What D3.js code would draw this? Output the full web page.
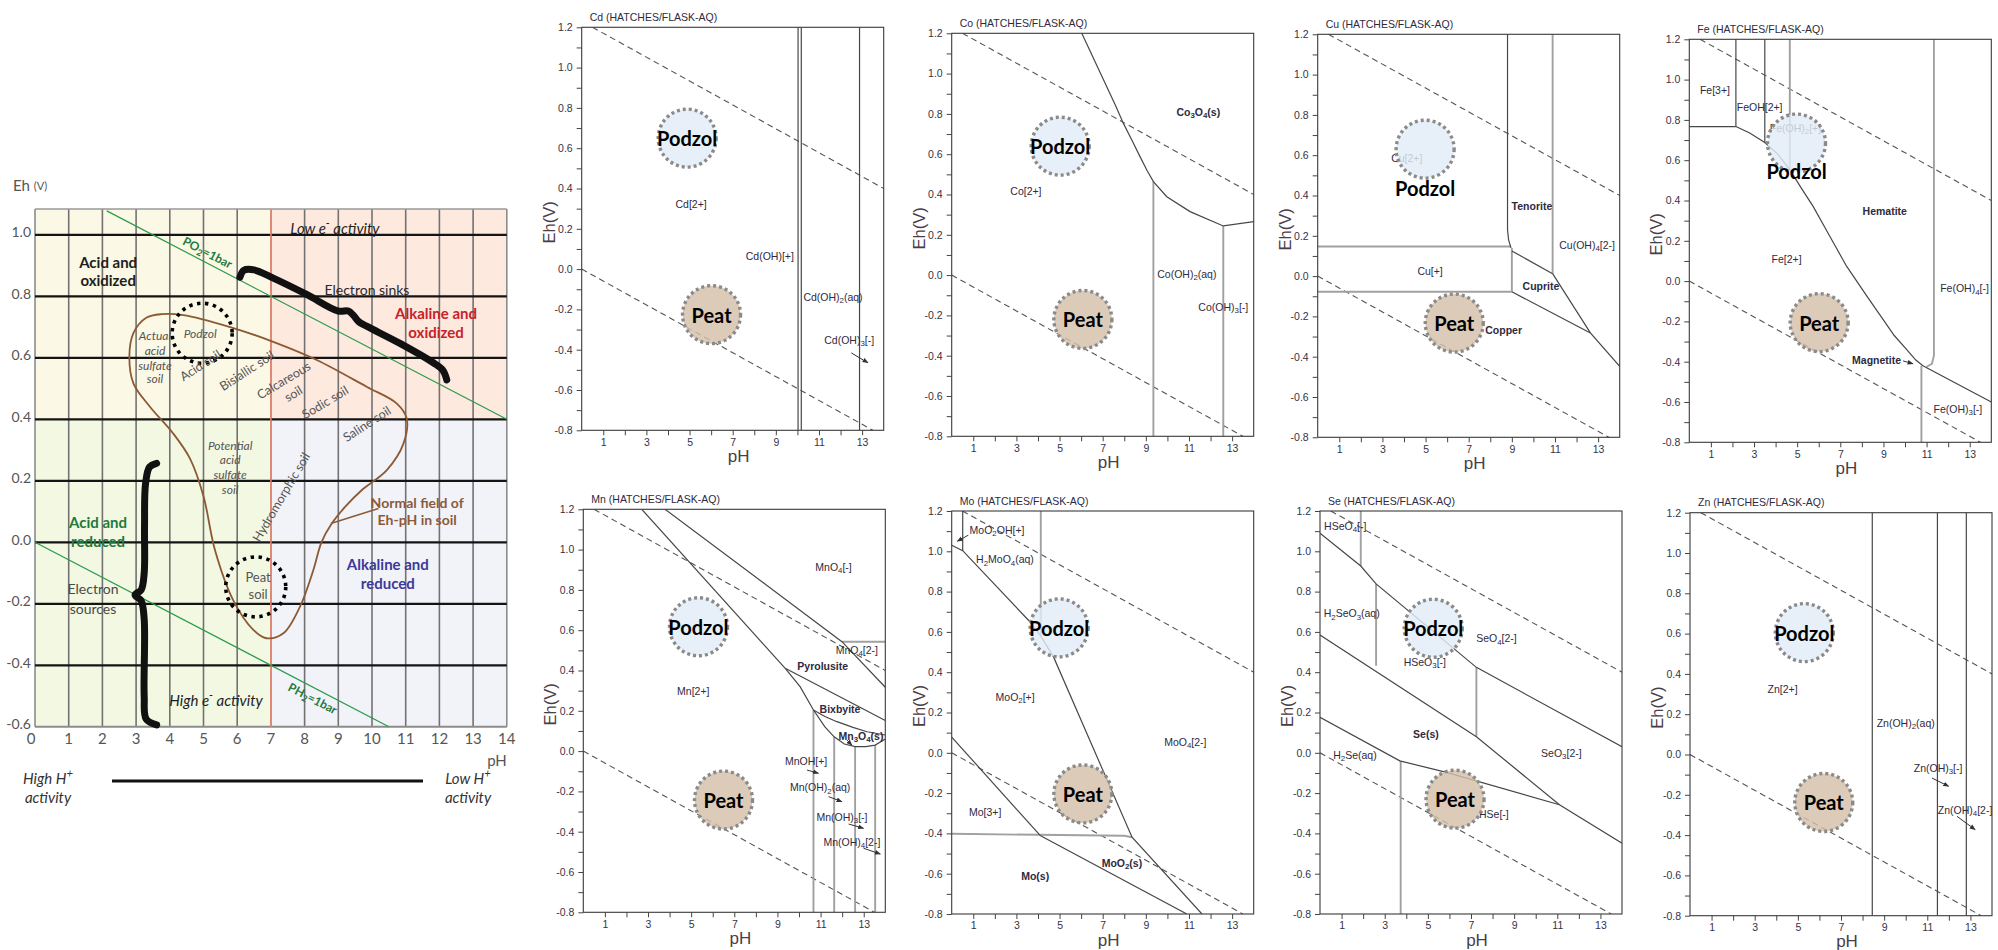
<!DOCTYPE html>
<meta charset="utf-8">
<style>
    body {
        margin: 0;
        background: #fff;
    }

    svg {
        display: block;
    }

    .soil text {
        font-family: Lato, "Open Sans", sans-serif;
    }

    .pd text {
        font-family: "Liberation Sans", Arial, sans-serif;
    }
</style>
<svg width="1998" height="950"></svg>
<script src="https://d3js.org/d3.v7.min.js"></script>
<script>
    // ---- left chart: Eh-pH fields in soil ----
    var soilPh = d3.range(0, 15);
    var soilEh = [-0.6, -0.4, -0.2, 0, 0.2, 0.4, 0.6, 0.8, 1.0];
    var soilZones = [
        {ph: [0, 7], eh: [0.4, 1.084], key: "acidOx"},
        {ph: [7, 14], eh: [0.4, 1.084], key: "alkOx"},
        {ph: [0, 7], eh: [-0.6, 0.4], key: "acidRed"},
        {ph: [7, 14], eh: [-0.6, 0.4], key: "alkRed"}
    ];
    var o2Line = [[2.13, 1.078], [14, 0.4]];
    var h2Line = [[0, 0], [10.5, -0.6]];
    var normalField = [
        [3.76, 0.742], [4.4, 0.739], [5.79, 0.70], [7.07, 0.652], [8.36, 0.593], [9.84, 0.506],
        [10.73, 0.452], [11.03, 0.403], [10.93, 0.32], [10.44, 0.235], [9.7, 0.17], [9.2, 0.115],
        [8.8, 0.06], [8.5, 0.0], [8.26, -0.09], [7.86, -0.21], [7.37, -0.296], [6.87, -0.312],
        [6.48, -0.285], [5.88, -0.188], [5.34, -0.025], [5.0, 0.15], [4.6, 0.272], [4.1, 0.354],
        [3.41, 0.441], [2.92, 0.517], [2.8, 0.604], [2.92, 0.68], [3.3, 0.73]
    ];
    var fieldPointer = [[10.19, 0.11], [8.8, 0.062]];
    var sinkBrace = [
        [6.08, 0.862], [6.2, 0.885], [6.5, 0.886], [7.07, 0.859], [8.06, 0.806], [9.0, 0.752],
        [9.3, 0.752], [9.45, 0.738], [9.6, 0.718], [9.84, 0.703], [10.83, 0.647], [11.82, 0.584],
        [12.1, 0.56], [12.22, 0.528]
    ];
    var sourceBrace = [
        [3.61, 0.257], [3.4, 0.245], [3.28, 0.19], [3.25, 0.05], [3.24, -0.1], [3.15, -0.155],
        [2.97, -0.171], [3.15, -0.19], [3.24, -0.25], [3.24, -0.5], [3.3, -0.575], [3.61, -0.594]
    ];
    var soilCircles = [[4.96, 0.68], [6.55, -0.145]];
    var soilNotes = [
        ["Acid and", 2.17, 0.912, "dark"], ["oxidized", 2.17, 0.853, "dark"],
        ["Low e^- activity", 8.9, 1.022, "note"],
        ["Electron sinks", 9.85, 0.824, "plain"],
        ["Alkaline and", 11.9, 0.746, "red"], ["oxidized", 11.9, 0.684, "red"],
        ["Acid and", 1.87, 0.066, "green"], ["reduced", 1.87, 0.004, "green"],
        ["Electron", 1.72, -0.149, "grey"], ["sources", 1.72, -0.214, "grey"],
        ["High e^- activity", 5.37, -0.513, "note"],
        ["Alkaline and", 10.47, -0.07, "blue"], ["reduced", 10.47, -0.132, "blue"],
        ["Normal field of", 11.34, 0.131, "brown"], ["Eh-pH in soil", 11.34, 0.076, "brown"],
        ["Actual", 3.56, 0.674, "soilIt"], ["acid", 3.56, 0.626, "soilIt"],
        ["sulfate", 3.56, 0.577, "soilIt"], ["soil", 3.56, 0.534, "soilIt"],
        ["Podzol", 4.9, 0.68, "soilIt"],
        ["Potential", 5.79, 0.316, "soilIt"], ["acid", 5.79, 0.27, "soilIt"],
        ["sulfate", 5.79, 0.222, "soilIt"], ["soil", 5.79, 0.173, "soilIt"],
        ["Peat", 6.62, -0.113, "soil"], ["soil", 6.62, -0.168, "soil"]
    ];
    var soilTilted = [
        ["Acid soil", 4.9, 0.577, -33], ["Bisiallic soil", 6.28, 0.56, -33],
        ["Calcareous", 7.37, 0.528, -31], ["soil", 7.66, 0.485, -31],
        ["Sodic soil", 8.6, 0.457, -31], ["Saline soil", 9.84, 0.387, -33],
        ["Hydromorphic soil", 7.29, 0.148, -59.5]
    ];
    var gasLabels = [["PO2=1bar", 5.13, 0.944, o2Line], ["PH2=1bar", 8.25, -0.506, h2Line]];

    // ---- right side: Eh-pH phase diagrams ----
    var ehMajor = [-0.8, -0.6, -0.4, -0.2, 0, 0.2, 0.4, 0.6, 0.8, 1.0, 1.2];
    var ehMinor = [-0.7, -0.5, -0.3, -0.1, 0.1, 0.3, 0.5, 0.7, 0.9, 1.1];
    var phMajor = [1, 3, 5, 7, 9, 11, 13];
    var phMinor = [2, 4, 6, 8, 10, 12];
    var waterUpper = [[0.5, 1.2], [14, 0.40]];
    var waterLower = [[0, 0], [13.5, -0.8]];

    var cdLines = [
        [[10.03, 1.2], [10.03, -0.8]],
        [[10.18, 1.2], [10.18, -0.8]],
        [[12.88, 1.2], [12.88, -0.8]]
    ];
    var cdLabels = [["Cd[2+]", 5.07, 0.324], ["Cd(OH)[+]", 8.72, 0.066], ["Cd(OH)2(aq)", 11.65, -0.14], ["Cd(OH)3[-]", 12.4, -0.35]];
    var cdArrows = [[[12.5, -0.416], [13.27, -0.465]]];

    var coLines = [
        [[6.03, 1.2], [7.6, 0.84], [7.96, 0.753], [8.35, 0.67], [8.73, 0.588], [9.05, 0.52], [9.35, 0.464],
            [9.97, 0.389], [11.05, 0.315], [12.59, 0.244], [14, 0.265]]
    ];
    var coGrey = [[[9.35, 0.464], [9.35, -0.8]], [[12.59, 0.244], [12.59, -0.8]]];
    var coLabels = [["Co3O4(s)", 11.43, 0.811, 1], ["Co[2+]", 3.44, 0.419], ["Co(OH)2(aq)", 10.9, 0.005], ["Co(OH)3[-]", 12.59, -0.157]];

    var cuLines = [
        [[8.8, 1.2], [8.8, 0.23], [8.85, 0.18], [8.96, 0.14]],
        [[9.0, 0.125], [10.89, 0.012]],
        [[10.89, 0.012], [12.64, -0.282], [14, -0.448]],
        [[9.0, -0.078], [12.64, -0.282]]
    ];
    var cuGrey = [
        [[0, 0.147], [8.96, 0.147]], [[9.0, 0.14], [9.0, -0.078]],
        [[0, -0.078], [9.0, -0.078]], [[10.89, 1.2], [10.89, 0.012]]
    ];
    var cuLabels = [["Cu[2+]", 4.13, 0.585], ["Tenorite", 9.93, 0.349, 1], ["Cu(OH)4[2-]", 12.49, 0.155],
        ["Cu[+]", 5.21, 0.023], ["Cuprite", 10.35, -0.051, 1], ["Copper", 8.62, -0.266, 1]];

    var feLines = [
        [[0, 0.767], [2.16, 0.767]],
        [[2.16, 0.767], [2.8, 0.735], [3.5, 0.688], [4.1, 0.63], [4.66, 0.553], [5.2, 0.46], [5.74, 0.371],
            [6.5, 0.225], [7.29, 0.074], [8.2, -0.07], [8.98, -0.19], [9.5, -0.27], [10.06, -0.338],
            [10.5, -0.392], [10.83, -0.42], [14, -0.6]],
        [[2.16, 1.2], [2.16, 0.767]],
        [[3.5, 1.2], [3.5, 0.688]]
    ];
    var feGrey = [
        [[4.66, 1.2], [4.66, 0.553]],
        [[10.76, -0.42], [10.76, -0.8]],
        [[11.34, 1.2], [11.34, -0.37], [11.25, -0.41], [11.0, -0.425]]
    ];
    var feLabels = [["Fe[3+]", 1.19, 0.95], ["FeOH[2+]", 3.26, 0.866], ["Fe(OH)2[+]", 4.92, 0.76],
        ["Hematite", 9.06, 0.35, 1], ["Fe[2+]", 4.51, 0.11], ["Fe(OH)4[-]", 12.76, -0.036],
        ["Magnetite", 8.68, -0.39, 1], ["Fe(OH)3[-]", 12.45, -0.635]];
    var feArrows = [[[9.91, -0.396], [10.37, -0.41]]];

    var mnLines = [
        [[2.71, 1.2], [9.36, 0.411]],
        [[3.79, 1.2], [11.99, 0.543], [14, 0.317]],
        [[9.36, 0.411], [14, 0.152]],
        [[9.36, 0.411], [10.05, 0.32], [10.67, 0.204]],
        [[10.67, 0.204], [11.2, 0.172], [11.76, 0.146], [12.5, 0.118], [13.15, 0.096], [14, 0.08]],
        [[10.67, 0.204], [11.2, 0.12], [11.63, 0.071], [12.1, 0.035], [12.6, 0.022], [13.1, 0.022],
            [13.53, 0.03], [14, 0.06]]
    ];
    var mnGrey = [
        [[11.99, 0.543], [14, 0.543]],
        [[10.67, 0.204], [10.67, -0.8]], [[11.63, 0.071], [11.63, -0.8]],
        [[12.6, 0.022], [12.6, -0.8]], [[13.53, 0.03], [13.53, -0.8]]
    ];
    var mnLabels = [["MnO4[-]", 11.6, 0.912], ["MnO4[2-]", 12.68, 0.502], ["Pyrolusite", 11.1, 0.424, 1],
        ["Bixbyite", 11.9, 0.21, 1], ["Mn3O4(s)", 12.87, 0.075, 1], ["Mn[2+]", 5.1, 0.3],
        ["MnOH[+]", 10.33, -0.048], ["Mn(OH)2(aq)", 10.98, -0.18], ["Mn(OH)3[-]", 11.99, -0.326],
        ["Mn(OH)4[2-]", 12.45, -0.45]];
    var mnArrows = [[[10.37, -0.094], [10.9, -0.11]], [[11.37, -0.226], [11.99, -0.251]],
        [[12.3, -0.362], [12.99, -0.383]], [[12.99, -0.482], [13.77, -0.511]], [[12.22, 0.055], [12.45, 0.03]]];

    var moLines = [
        [[0.51, 1.2], [0.51, 1.003]],
        [[0, 1.03], [0.51, 1.003], [3.56, 0.658], [4.1, 0.584], [4.72, 0.476], [8.36, -0.419], [11.6, -0.8]],
        [[0, 0.078], [4.1, -0.41]],
        [[4.1, -0.41], [10.9, -0.8]]
    ];
    var moGrey = [[[4.13, 1.2], [4.13, 0.584]], [[0, -0.402], [8.0, -0.412], [8.36, -0.419]]];
    var moLabels = [["MoO2OH[+]", 2.1, 1.105], ["H2MoO4(aq)", 2.47, 0.96], ["MoO2[+]", 2.94, 0.277],
        ["MoO4[2-]", 10.83, 0.053], ["Mo[3+]", 1.55, -0.295], ["MoO2(s)", 7.89, -0.548, 1], ["Mo(s)", 3.87, -0.61, 1]];
    var moArrows = [[[0.77, 1.08], [0.26, 1.05]]];

    var seLines = [
        [[0, 1.09], [1.89, 0.927], [2.6, 0.838], [7.25, 0.424], [14, 0.03]],
        [[0, 0.585], [7.25, 0.08], [11.1, -0.258], [14, -0.449]],
        [[0, 0.176], [3.7, -0.04], [5.86, -0.097], [11.1, -0.258]]
    ];
    var seGrey = [
        [[1.89, 1.2], [1.89, 0.927]], [[2.6, 0.838], [2.6, 0.432]],
        [[7.25, 0.424], [7.25, 0.08]], [[3.74, -0.04], [3.74, -0.8]]
    ];
    var seLabels = [["HSeO4[-]", 1.17, 1.126], ["H2SeO3(aq)", 1.47, 0.692], ["HSeO3[-]", 4.86, 0.45],
        ["SeO4[2-]", 8.18, 0.568], ["Se(s)", 4.91, 0.093, 1], ["SeO3[2-]", 11.19, -0.002],
        ["H2Se(aq)", 1.62, -0.01], ["HSe[-]", 8.06, -0.304]];

    var znLines = [[[8.45, 1.2], [8.45, -0.8]], [[11.47, 1.2], [11.47, -0.8]], [[12.81, 1.2], [12.81, -0.8]]];
    var znLabels = [["Zn[2+]", 4.29, 0.324], ["Zn(OH)2(aq)", 10.0, 0.156], ["Zn(OH)3[-]", 11.5, -0.067], ["Zn(OH)4[2-]", 12.75, -0.276]];
    var znArrows = [[[11.22, -0.117], [11.99, -0.158]], [[12.38, -0.307], [13.22, -0.373]]];

    var panels = [
        {el: "Cd", left: 581.7, top: 27.3, lines: cdLines, grey: [], labels: cdLabels, arrows: cdArrows, podzol: [4.89, 0.65], peat: [6.02, -0.226]},
        {el: "Co", left: 951.7, top: 33.3, lines: coLines, grey: coGrey, labels: coLabels, arrows: [], podzol: [5.03, 0.64], peat: [6.08, -0.22]},
        {el: "Cu", left: 1317.7, top: 34.3, lines: cuLines, grey: cuGrey, labels: cuLabels, arrows: [], podzol: [4.98, 0.63], podzolText: [4.98, 0.436], peat: [6.33, -0.233]},
        {el: "Fe", left: 1689.3, top: 39.3, lines: feLines, grey: feGrey, labels: feLabels, arrows: feArrows, podzol: [4.97, 0.685], podzolText: [4.97, 0.545], peat: [6.02, -0.206]},
        {el: "Mn", left: 583.3, top: 509.3, lines: mnLines, grey: mnGrey, labels: mnLabels, arrows: mnArrows, podzol: [5.34, 0.617], peat: [6.5, -0.243]},
        {el: "Mo", left: 951.7, top: 511, lines: moLines, grey: moGrey, labels: moLabels, arrows: moArrows, podzol: [4.98, 0.62], peat: [6.08, -0.204]},
        {el: "Se", left: 1320, top: 511, lines: seLines, grey: seGrey, labels: seLabels, arrows: [], podzol: [5.25, 0.618], peat: [6.26, -0.23]},
        {el: "Zn", left: 1690, top: 512.7, lines: znLines, grey: [], labels: znLabels, arrows: znArrows, podzol: [5.3, 0.605], peat: [6.2, -0.238]}
    ];

    var svg = d3.select("svg");
    svg.append("rect").attr("width", 1998).attr("height", 950).attr("fill", "#fff");

    svg.append("defs").append("marker")
        .attr("id", "arr").attr("viewBox", "0 0 10 10")
        .attr("refX", 9).attr("refY", 5)
        .attr("markerWidth", 6).attr("markerHeight", 6)
        .attr("orient", "auto")
        .append("path").attr("d", "M0,1L10,5L0,9z").attr("fill", "#333");

    // text with chemical subscripts (digits after a letter or ")" outside [])
    // and "^" marking the next char as superscript
    function chem(el, s, size) {
        var parts = [], inBr = false, prev = "", sup = false;
        for (var i = 0; i < s.length; i++) {
            var c = s[i];
            if (c === "^") { sup = true; continue; }
            if (c === "[") inBr = true;
            var kind = sup ? "sup" : (!inBr && /\d/.test(c) && /[A-Za-z)]/.test(prev) ? "sub" : "n");
            sup = false;
            if (c === "]") inBr = false;
            var last = parts[parts.length - 1];
            if (last && last.kind === kind) last.t += c;
            else parts.push({t: c, kind: kind});
            prev = c;
        }
        var shift = 0;
        parts.forEach(function (p) {
            var want = p.kind === "sub" ? 0.3 * size : (p.kind === "sup" ? -0.38 * size : 0);
            var ts = el.append("tspan").attr("dy", want - shift).text(p.t);
            if (p.kind !== "n") ts.style("font-size", (size * 0.75) + "px");
            shift = want;
        });
        return el;
    }

    function putText(g, t, px, py, st, rot) {
        var el = g.append("text")
            .attr("transform", "translate(" + px + "," + py + ")" + (rot ? " rotate(" + rot + ")" : ""))
            .attr("text-anchor", st.anchor || "middle")
            .attr("dominant-baseline", "central")
            .style("font-size", st.size + "px")
            .style("font-weight", st.weight || 400)
            .style("font-style", st.italic ? "italic" : "normal")
            .attr("fill", st.fill);
        return chem(el, t, st.size);
    }

    // ---------- left chart ----------
    var zoneFill = {acidOx: "#fbf8e6", alkOx: "#fde9de", acidRed: "#f2f8e2", alkRed: "#f2f2f9"};
    var noteStyle = {
        dark: {size: 15, weight: 700, fill: "#1e1e1e"},
        red: {size: 15, weight: 700, fill: "#c62229"},
        green: {size: 15, weight: 700, fill: "#1f7a3d"},
        blue: {size: 15, weight: 700, fill: "#3b3a9a"},
        brown: {size: 14, weight: 700, fill: "#8a5a3c"},
        plain: {size: 14, fill: "#2a2a2a"},
        grey: {size: 14, fill: "#4a4a4a"},
        note: {size: 15, italic: true, fill: "#1e1e1e"},
        soil: {size: 13, fill: "#555"},
        soilIt: {size: 12, italic: true, fill: "#555"}
    };

    var lx = d3.scaleLinear().domain([0, 14]).range([35, 506.8]);
    var ly = d3.scaleLinear().domain([-0.6, 1.084]).range([726.8, 209]);
    var soil = svg.append("g").attr("class", "soil");

    soil.selectAll(".zone").data(soilZones).enter().append("rect")
        .attr("x", function (d) { return lx(d.ph[0]); })
        .attr("y", function (d) { return ly(d.eh[1]); })
        .attr("width", function (d) { return lx(d.ph[1]) - lx(d.ph[0]); })
        .attr("height", function (d) { return ly(d.eh[0]) - ly(d.eh[1]); })
        .attr("fill", function (d) { return zoneFill[d.key]; });

    soil.selectAll(".vg").data(soilPh).enter().append("line")
        .attr("x1", function (d) { return lx(d); })
        .attr("x2", function (d) { return lx(d); })
        .attr("y1", ly(1.084)).attr("y2", ly(-0.6))
        .attr("stroke", function (d) { return (d === 0 || d === 14) ? "#8c8c8c" : "#727272"; })
        .attr("stroke-width", 1.6);

    soil.append("line")
        .attr("x1", lx(0)).attr("x2", lx(14)).attr("y1", ly(1.084)).attr("y2", ly(1.084))
        .attr("stroke", "#999").attr("stroke-width", 1.5);

    soil.selectAll(".hg").data(soilEh).enter().append("line")
        .attr("x1", lx(0)).attr("x2", lx(14))
        .attr("y1", function (d) { return ly(d); })
        .attr("y2", function (d) { return ly(d); })
        .attr("stroke", function (d) { return d === -0.6 ? "#8c8c8c" : "#141414"; })
        .attr("stroke-width", function (d) { return d === -0.6 ? 2 : 2.2; });

    soil.append("line")
        .attr("x1", lx(7)).attr("x2", lx(7)).attr("y1", ly(1.084)).attr("y2", ly(-0.6))
        .attr("stroke", "#f08a74").attr("stroke-width", 1.5);

    var sline = d3.line().x(function (d) { return lx(d[0]); }).y(function (d) { return ly(d[1]); });

    soil.selectAll(".gas").data([o2Line, h2Line]).enter().append("path")
        .attr("d", sline).attr("fill", "none").attr("stroke", "#2a9a4a").attr("stroke-width", 1.2);

    soil.append("path")
        .attr("d", sline.curve(d3.curveCatmullRomClosed.alpha(0.5))(normalField))
        .attr("fill", "none").attr("stroke", "#8b5a35").attr("stroke-width", 1.8);
    sline.curve(d3.curveLinear);
    soil.append("path").attr("d", sline(fieldPointer))
        .attr("fill", "none").attr("stroke", "#8b5a35").attr("stroke-width", 1.5);

    soil.selectAll(".brace").data([sinkBrace, sourceBrace]).enter().append("path")
        .attr("d", d3.line().x(function (d) { return lx(d[0]); }).y(function (d) { return ly(d[1]); })
            .curve(d3.curveCatmullRom.alpha(0.5)))
        .attr("fill", "none").attr("stroke", "#111").attr("stroke-width", 7)
        .attr("stroke-linecap", "round").attr("stroke-linejoin", "round");

    soil.selectAll(".ring").data(soilCircles).enter().append("circle")
        .attr("cx", function (d) { return lx(d[0]); })
        .attr("cy", function (d) { return ly(d[1]); })
        .attr("r", 30)
        .attr("fill", "none").attr("stroke", "#000").attr("stroke-width", 3.6)
        .attr("stroke-dasharray", "3.4 4.6");

    soilNotes.forEach(function (d) {
        putText(soil, d[0], lx(d[1]), ly(d[2]), noteStyle[d[3]]);
    });
    soilTilted.forEach(function (d) {
        putText(soil, d[0], lx(d[1]), ly(d[2]), {size: 12.5, fill: "#555"}, d[3]);
    });
    gasLabels.forEach(function (d) {
        var ln = d[3];
        var ang = Math.atan2(ly(ln[1][1]) - ly(ln[0][1]), lx(ln[1][0]) - lx(ln[0][0])) * 180 / Math.PI;
        putText(soil, d[0], lx(d[1]), ly(d[2]), {size: 12, weight: 700, fill: "#1f7a3d"}, ang);
    });

    // axes of left chart
    soil.selectAll(".yl").data(soilEh).enter().append("text")
        .attr("x", 31).attr("y", function (d) { return ly(d) - 3; })
        .attr("text-anchor", "end").attr("dominant-baseline", "central")
        .style("font-size", "14px").attr("fill", "#555")
        .text(function (d) { return d.toFixed(1); });
    soil.selectAll(".xl").data(soilPh).enter().append("text")
        .attr("x", function (d) { return lx(d) - (d === 0 ? 4 : 0); }).attr("y", 738)
        .attr("text-anchor", "middle").attr("dominant-baseline", "central")
        .style("font-size", "15px").attr("fill", "#555")
        .text(function (d) { return d; });
    soil.append("text").attr("x", 13).attr("y", 185).attr("dominant-baseline", "central")
        .attr("fill", "#555").style("font-size", "15px")
        .text("Eh ").append("tspan").style("font-size", "11px").text("(V)");
    putText(soil, "pH", 497, 760, {size: 15, fill: "#555"});
    putText(soil, "High H^+", 48, 778, {size: 15, italic: true, fill: "#333"});
    putText(soil, "activity", 48, 797, {size: 15, italic: true, fill: "#333"});
    putText(soil, "Low H^+", 468, 778, {size: 15, italic: true, fill: "#333"});
    putText(soil, "activity", 468, 797, {size: 15, italic: true, fill: "#333"});
    soil.append("line").attr("x1", 112).attr("x2", 423).attr("y1", 781).attr("y2", 781)
        .attr("stroke", "#111").attr("stroke-width", 3);

    // ---------- phase diagrams ----------
    var PW = 302, PH = 403;
    var axisInk = "#353248";

    function drawPanel(p) {
        var g = svg.append("g").attr("class", "pd");
        var x = d3.scaleLinear().domain([0, 14]).range([p.left, p.left + PW]);
        var y = d3.scaleLinear().domain([-0.8, 1.2]).range([p.top + PH, p.top]);
        var line = d3.line().x(function (d) { return x(d[0]); }).y(function (d) { return y(d[1]); });
        var clipId = "clip" + p.el;
        g.append("clipPath").attr("id", clipId).append("rect")
            .attr("x", p.left).attr("y", p.top).attr("width", PW).attr("height", PH);
        var plot = g.append("g").attr("clip-path", "url(#" + clipId + ")");

        plot.selectAll(".water").data([waterUpper, waterLower]).enter().append("path")
            .attr("d", line).attr("fill", "none").attr("stroke", "#555")
            .attr("stroke-width", 1.1).attr("stroke-dasharray", "6 4");
        plot.selectAll(".soft").data(p.grey).enter().append("path")
            .attr("d", line).attr("fill", "none").attr("stroke", "#a0a0a0").attr("stroke-width", 1.9);
        plot.selectAll(".bound").data(p.lines).enter().append("path")
            .attr("d", line).attr("fill", "none").attr("stroke", "#474747").attr("stroke-width", 1.2);

        p.labels.forEach(function (d) {
            putText(plot, d[0], x(d[1]), y(d[2]), {size: 10.5, weight: d[3] ? 700 : 400, fill: "#2e2a40"});
        });
        plot.selectAll(".arr").data(p.arrows).enter().append("path")
            .attr("d", line).attr("stroke", "#333").attr("stroke-width", 1).attr("fill", "none")
            .attr("marker-end", "url(#arr)");

        var soils = [
            {c: p.podzol, t: p.podzolText || p.podzol, name: "Podzol", fill: "#e2ecf7"},
            {c: p.peat, t: p.peat, name: "Peat", fill: "#d4c0a8"}
        ];
        plot.selectAll(".soilc").data(soils).enter().append("circle")
            .attr("cx", function (d) { return x(d.c[0]); })
            .attr("cy", function (d) { return y(d.c[1]); })
            .attr("r", 29)
            .attr("fill", function (d) { return d.fill; }).attr("fill-opacity", 0.82)
            .attr("stroke", "#8a8a8a").attr("stroke-width", 3.4).attr("stroke-dasharray", "3 3");
        plot.selectAll(".soilt").data(soils).enter().append("text")
            .attr("x", function (d) { return x(d.t[0]); })
            .attr("y", function (d) { return y(d.t[1]); })
            .attr("text-anchor", "middle").attr("dominant-baseline", "central")
            .style("font-family", "Lato, sans-serif").style("font-weight", 700).style("font-size", "20px")
            .attr("fill", "#000")
            .text(function (d) { return d.name; });

        g.append("rect").attr("x", p.left).attr("y", p.top).attr("width", PW).attr("height", PH)
            .attr("fill", "none").attr("stroke", "#3a3a3a").attr("stroke-width", 1.1);

        var ya = g.append("g").attr("transform", "translate(" + p.left + ",0)")
            .call(d3.axisLeft(y).tickValues(ehMajor).tickSize(5).tickPadding(4)
                .tickFormat(function (d) { return d.toFixed(1); }));
        var ym = g.append("g").attr("transform", "translate(" + p.left + ",0)")
            .call(d3.axisLeft(y).tickValues(ehMinor).tickSize(5).tickFormat(""));
        var xa = g.append("g").attr("transform", "translate(0," + (p.top + PH) + ")")
            .call(d3.axisBottom(x).tickValues(phMajor).tickSize(5).tickPadding(3));
        var xm = g.append("g").attr("transform", "translate(0," + (p.top + PH) + ")")
            .call(d3.axisBottom(x).tickValues(phMinor).tickSize(5).tickFormat(""));
        [ya, ym, xa, xm].forEach(function (a) {
            a.select(".domain").remove();
            a.selectAll("line").attr("stroke", "#444");
            a.selectAll("text").style("font-size", "10.5px").attr("fill", axisInk)
                .style("font-family", "'Liberation Sans', Arial, sans-serif");
        });

        g.append("text").attr("x", p.left + 8).attr("y", p.top - 10.5)
            .attr("dominant-baseline", "central").style("font-size", "10.5px").attr("fill", "#2e2a40")
            .text(p.el + " (HATCHES/FLASK-AQ)");
        g.append("text")
            .attr("transform", "translate(" + (p.left - 33) + "," + (p.top + 195) + ") rotate(-90)")
            .attr("text-anchor", "middle").attr("dominant-baseline", "central")
            .style("font-size", "16.5px").attr("fill", "#4a3d48").text("Eh(V)");
        g.append("text").attr("x", p.left + PW / 2 + 6).attr("y", p.top + PH + 26)
            .attr("text-anchor", "middle").attr("dominant-baseline", "central")
            .style("font-size", "17px").attr("fill", "#4a3d48").text("pH");
    }

    panels.forEach(drawPanel);
</script>
